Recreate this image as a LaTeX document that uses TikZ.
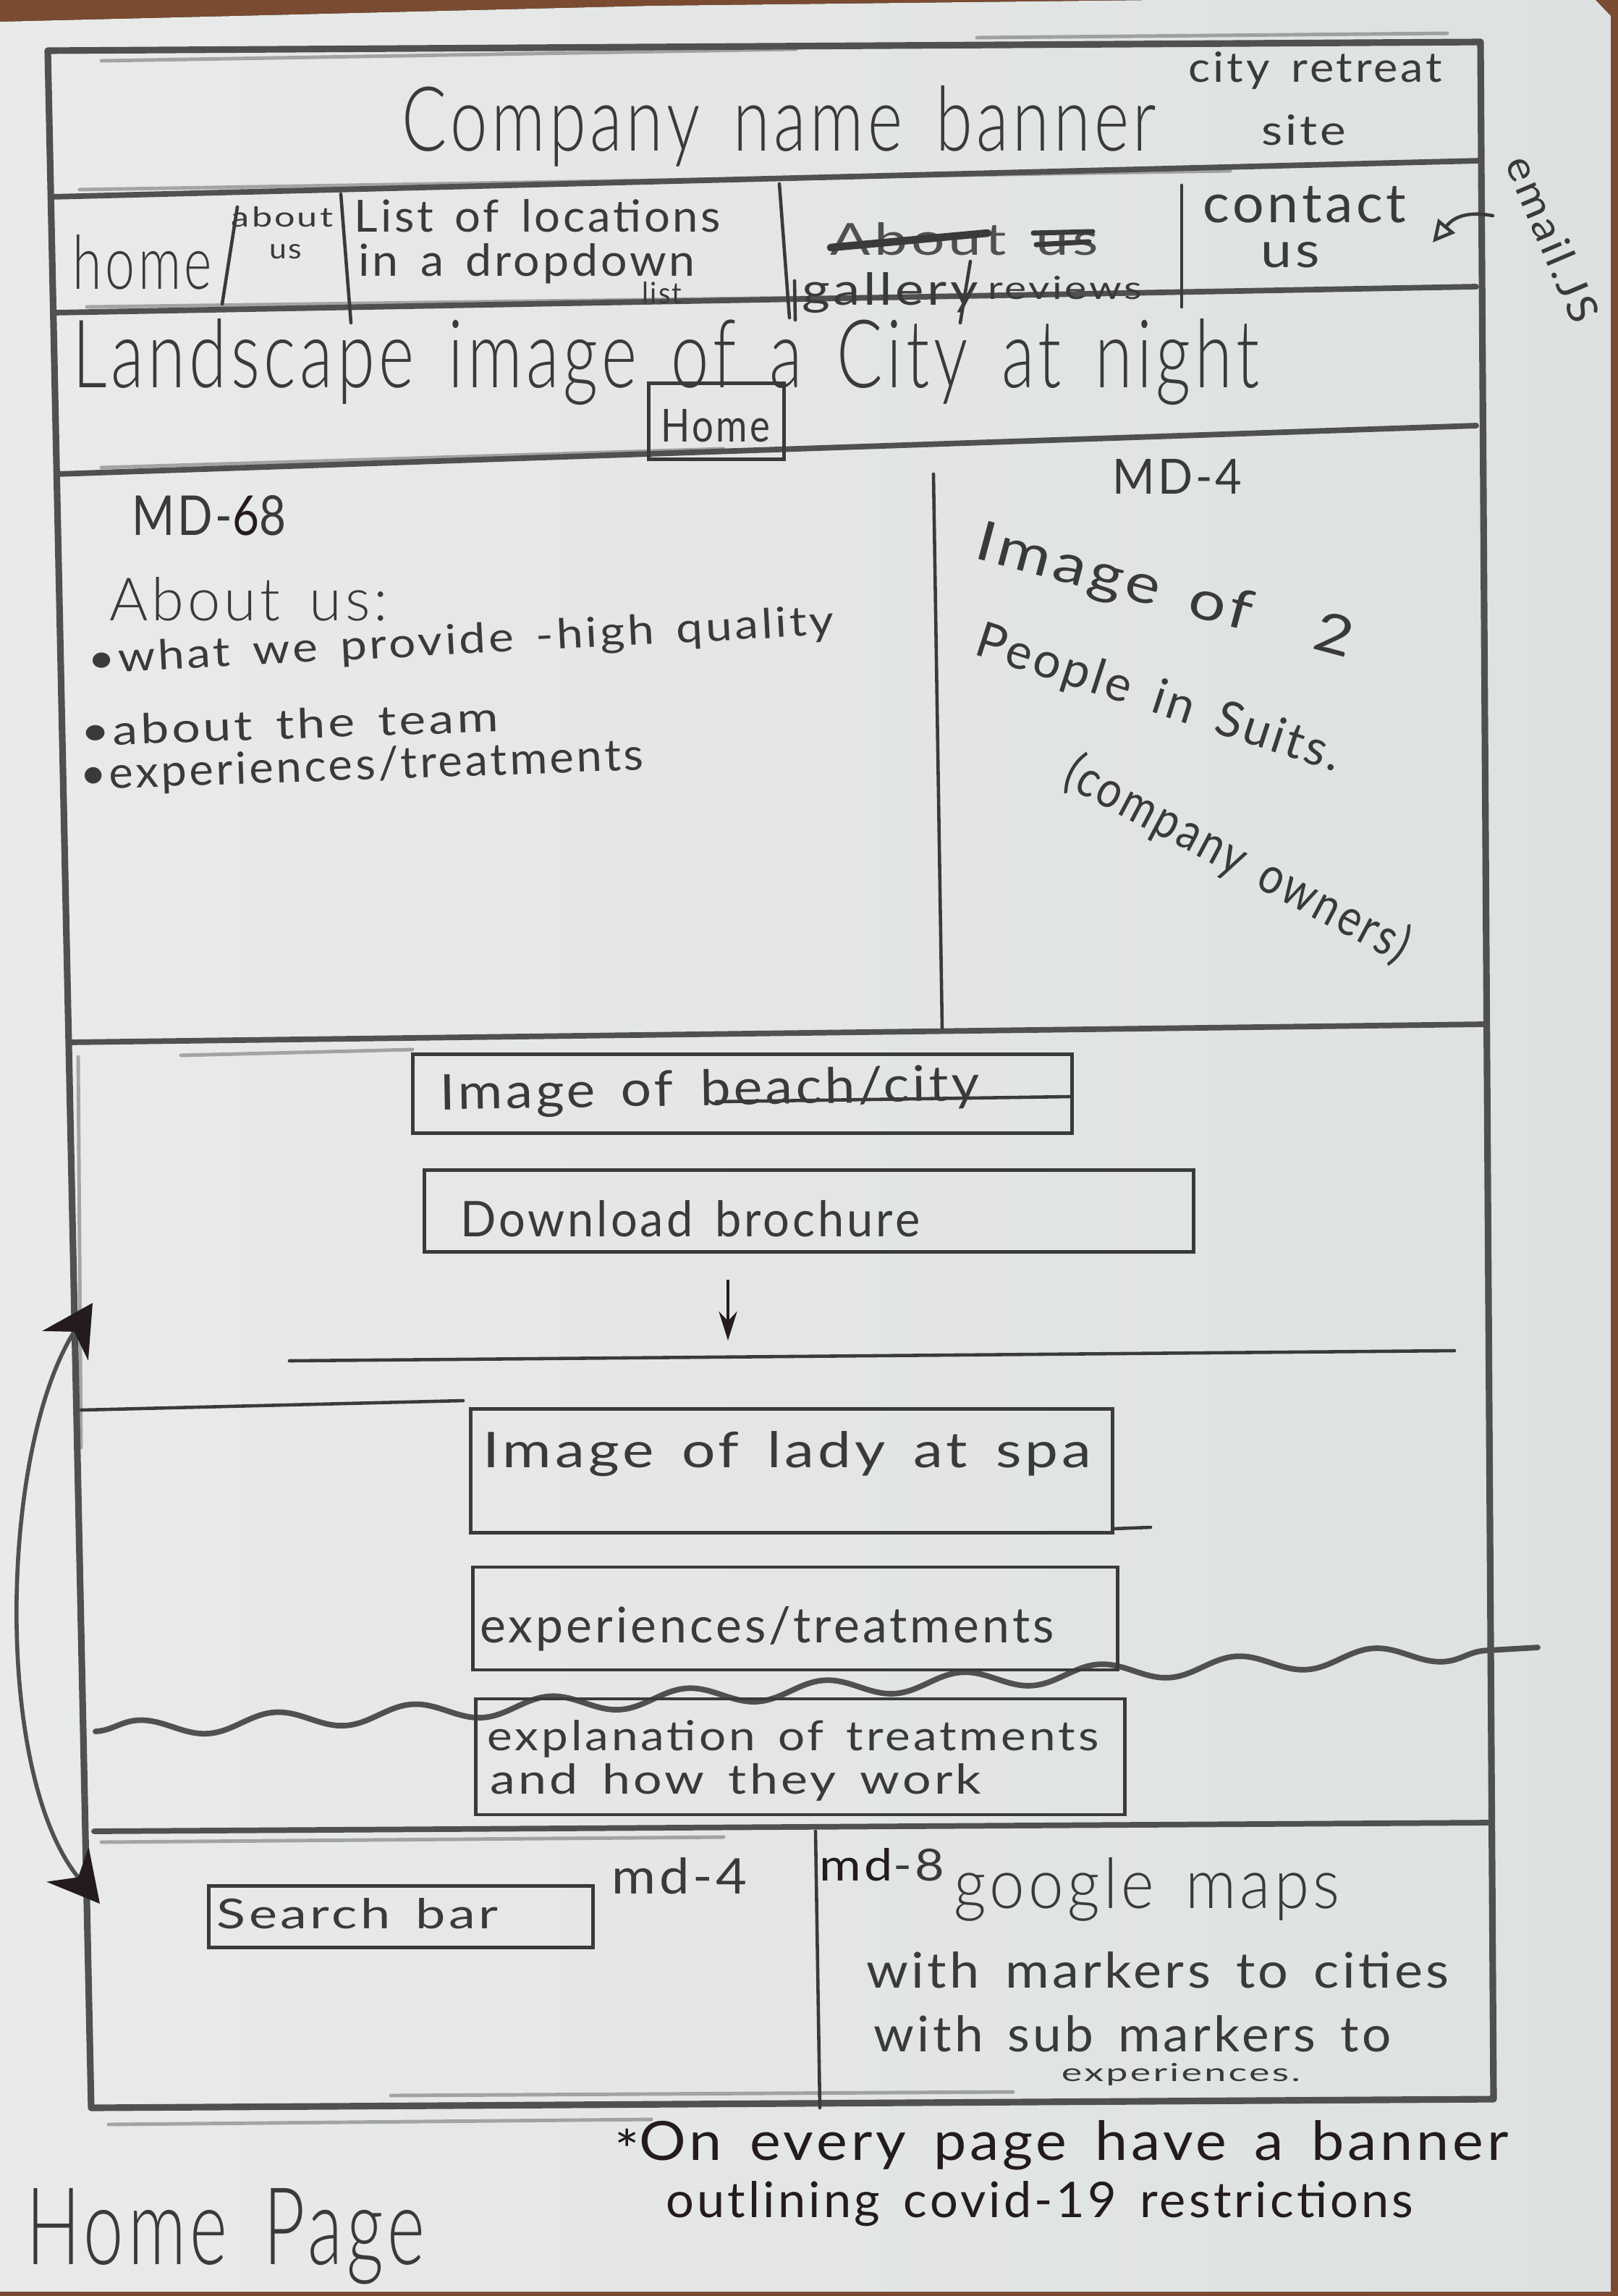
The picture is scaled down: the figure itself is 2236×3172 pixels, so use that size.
\documentclass[tikz,border=0pt]{standalone}
\usepackage{fontspec}
\setmainfont{Lato}[LetterSpace=6, WordSpace=1.5]
\IfFontExistsTF{Lato Light}
  {\newfontfamily\thinhand{Lato Light}[LetterSpace=6, WordSpace=1.5]}
  {\newfontfamily\thinhand{Lato}[LetterSpace=6, WordSpace=1.5]}
\usepackage{graphicx}
\usetikzlibrary{arrows.meta,decorations.pathmorphing,calc}

\definecolor{paper}{HTML}{E9EBE9}
\definecolor{paperR}{HTML}{DDE1E1}
\definecolor{table}{HTML}{7A4B30}
\definecolor{pencil}{HTML}{505050}
\definecolor{lead}{HTML}{3A3A3A}
\definecolor{ink}{HTML}{231B1F}

% hand lettering: width and height (cm) of the written line
\newcommand\hand[3]{\resizebox{#1cm}{#2cm}{#3}}

\tikzset{
  frame/.style={draw=pencil, line width=2.6pt, line cap=round, line join=round},
  rule/.style={draw=pencil, line width=2.2pt, line cap=round},
  faint/.style={draw=pencil, line width=1.4pt, line cap=round, opacity=0.45},
  thin/.style={draw=lead, line width=1.3pt, line cap=round},
  sketchbox/.style={draw=lead, line width=1.3pt, rectangle, inner sep=0pt},
  txt/.style={inner sep=0pt, text=lead},
  big/.style={inner sep=0pt, text=lead, font=\thinhand},
  pen/.style={inner sep=0pt, text=ink},
  bigtip/.tip={Stealth[length=0.7cm, width=0.75cm, color=ink]},
}

\begin{document}
\begin{tikzpicture}[x=0.01cm,y=-0.01cm]
\useasboundingbox (0,0) rectangle (2236,3172);

% table and sheet of paper
\fill[table] (0,0) rectangle (2236,3172);
\fill[left color=paper, right color=paperR]
  (0,30) -- (900,8) -- (1600,0) -- (2205,0) -- (2226,22) -- (2226,3166) -- (0,3166) -- cycle;

% page outline
\coordinate (TL) at (66,70);
\coordinate (TR) at (2046,58);
\coordinate (BR) at (2064,2900);
\coordinate (BL) at (126,2912);
\draw[frame] (TL) -- (TR) -- (BR) -- (BL) -- cycle;
\draw[faint] (140,84) -- (1100,68);
\draw[faint] (1350,52) -- (2000,46);
\draw[faint] (150,2935) -- (900,2928);
\draw[faint] (540,2895) -- (1400,2890);
\draw[faint] (108,1460) -- (112,2000);

% horizontal section rules
\draw[rule] (70,272) -- (2044,222);
\draw[faint] (110,262) -- (1700,236);
\draw[rule] (74,432) -- (2040,396);
\draw[faint] (120,424) -- (1200,410);
\draw[rule] (78,655) -- (2040,588);
\draw[faint] (140,646) -- (1000,620);
\draw[rule] (95,1440) -- (2050,1415);
\draw[faint] (250,1458) -- (570,1450);
\draw[thin] (400,1880) -- (2010,1866);
\draw[thin] (112,1948) -- (640,1935);
\draw[rule, decorate, decoration={snake, segment length=1.9cm, amplitude=0.12cm}]
  (132,2392) -- (2125,2276);
\draw[rule] (130,2530) -- (2058,2518);
\draw[faint] (140,2545) -- (1000,2538);

% navigation and column dividers
\draw[thin] (328,286) -- (307,420);
\draw[thin] (471,268) -- (485,446);
\draw[thin] (1077,254) -- (1091,439);
\draw[thin] (1098,388) -- (1099,442);
\draw[thin] (1341,361) -- (1327,446);
\draw[thin] (1633,256) -- (1633,424);
\draw[thin] (1290,655) -- (1302,1420);
\draw[thin] (1127,2530) -- (1133,2912);

% banner
\node[big] (banner) at (1077,174) {\hand{10.42}{0.9}{Company name banner}};
\node[txt] (retreat) at (1818,97) {\hand{3.5}{0.42}{city retreat}};
\node[txt] (site) at (1802,180) {\hand{1.17}{0.42}{site}};

% navigation bar
\node[big] (navhome) at (197,362) {\hand{1.92}{0.75}{home}};
\node[txt] (navabout) at (390,300) {\hand{1.4}{0.28}{about}};
\node[txt] (navaboutus) at (395,348) {\hand{0.45}{0.2}{us}};
\node[txt] (loca) at (743,298) {\hand{5.06}{0.45}{List of locations}};
\node[txt] (locb) at (728,364) {\hand{4.65}{0.45}{in a dropdown}};
\node[txt] (locc) at (915,405) {\hand{0.55}{0.3}{list}};
\node[txt, text=pencil] (struck) at (1333,330) {\hand{3.7}{0.45}{About\enspace us}};
\draw[line width=3pt, draw=lead, line cap=round] (1148,342) -- (1365,322);
\draw[line width=2pt, draw=lead, line cap=round] (1428,322) -- (1510,320);
\draw[line width=2pt, draw=lead, line cap=round] (1432,338) -- (1505,334);
\node[txt] (gallery) at (1230,405) {\hand{2.43}{0.45}{gallery}};
\node[txt] (reviews) at (1472,398) {\hand{2.12}{0.32}{reviews}};
\node[txt] (contact) at (1803,283) {\hand{2.8}{0.5}{contact}};
\node[txt] (contactus) at (1783,352) {\hand{0.81}{0.35}{us}};

% note beside the page, pointing into the contact cell
\node[txt, rotate=-67] (emailjs) at (2146,330) {\hand{2.44}{0.42}{email.JS}};
\coordinate (emailtail) at (2063,298);
\coordinate (contactmark) at (1980,335);
\draw[thin, -{Triangle[open, length=0.3cm, width=0.3cm]}]
  (emailtail) .. controls (2020,290) and (2005,305) .. (contactmark);

% hero image strip
\node[big] (landscape) at (920,500) {\hand{16.39}{0.95}{Landscape image of a City at night}};
\node[sketchbox, minimum width=1.87cm, minimum height=1.05cm] (homebox) at (990,582) {};
\node[txt] (homebtn) at (989,588) {\hand{1.5}{0.45}{Home}};

% about-us row
\node[txt] (mdleft) at (289,712) {\hand{2.13}{0.55}{MD-\textcolor{ink}{6}8}};
\node[big] (aboutus) at (344,828) {\hand{3.84}{0.6}{About us:}};
\node[txt, rotate=3] (bulleta) at (637,888) {\hand{10.32}{0.42}{\textbullet what we provide -high quality}};
\node[txt, rotate=2] (bulletb) at (400,1000) {\hand{5.77}{0.42}{\textbullet about the team}};
\node[txt, rotate=2] (bulletc) at (500,1060) {\hand{7.79}{0.45}{\textbullet experiences/treatments}};
\node[txt] (mdright) at (1627,658) {\hand{1.78}{0.48}{MD-4}};
\node[txt, rotate=-15] (owners1) at (1609,820) {\hand{5.36}{0.55}{Image of\quad 2}};
\node[txt, rotate=-18] (owners2) at (1601,967) {\hand{5.26}{0.5}{People\enspace in\enspace Suits.}};
\node[txt, rotate=-28] (owners3) at (1710,1188) {\hand{5.28}{0.55}{(company owners)}};

% brochure block
\node[sketchbox, minimum width=9.10cm, minimum height=1.09cm] (beachbox) at (1026,1511) {};
\draw[thin] (990,1522) -- (1478,1515);
\node[txt, rotate=1] (beach) at (981,1508) {\hand{7.45}{0.5}{Image of\enspace beach/city}};
\node[sketchbox, minimum width=10.62cm, minimum height=1.13cm] (brochbox) at (1118,1673) {};
\node[txt] (brochure) at (954,1684) {\hand{6.34}{0.5}{Download brochure}};
\coordinate (dlstart) at (1006,1768);
\coordinate (dlend) at (1006,1852);
\draw[draw=ink, line width=1.3pt, -{Stealth[length=0.4cm, width=0.25cm]}] (dlstart) -- (dlend);

% treatments block
\node[sketchbox, minimum width=8.87cm, minimum height=1.71cm] (ladybox) at (1094,2032) {};
\draw[thin] (1538,2112) -- (1590,2110);
\node[txt] (lady) at (1088,2009) {\hand{8.4}{0.5}{Image of lady at spa}};
\node[sketchbox, minimum width=8.9cm, minimum height=1.42cm] (experbox) at (1099,2236) {};
\node[txt] (exper) at (1060,2250) {\hand{7.93}{0.5}{experiences/treatments}};
\node[sketchbox, minimum width=8.96cm, minimum height=1.6cm] (explbox) at (1106,2427) {};
\node[txt] (expla) at (1096,2402) {\hand{8.44}{0.42}{explanation of treatments}};
\node[txt] (explb) at (1017,2462) {\hand{6.78}{0.42}{and how they work}};

% scroll link along the left edge
\coordinate (loopa) at (128,1800);
\coordinate (loopb) at (138,2630);
\draw[draw=pencil, line width=1.6pt, {bigtip}-{bigtip}]
  (loopa) .. controls (0,2000) and (-10,2450) .. (loopb);

% search and map row
\node[sketchbox, minimum width=5.31cm, minimum height=0.85cm] (searchbox) at (554,2648) {};
\node[txt] (search) at (494,2644) {\hand{3.88}{0.42}{Search bar}};
\node[txt] (mdfour) at (939,2592) {\hand{1.86}{0.5}{md-4}};
\node[txt] (mdeight) at (1219,2576) {\hand{1.72}{0.45}{\textcolor{ink}{md}-8}};
\node[big] (gmaps) at (1585,2610) {\hand{5.33}{0.7}{google maps}};
\node[txt] (marka) at (1600,2722) {\hand{8.05}{0.5}{with markers to cities}};
\node[txt] (markb) at (1565,2810) {\hand{7.14}{0.5}{with sub markers to}};
\node[txt] (markc) at (1632,2866) {\hand{3.3}{0.25}{experiences.}};

% footnote and page title
\node[pen] (foota) at (1467,2964) {\hand{12.34}{0.55}{\raisebox{-0.35ex}{*}On every page have a banner}};
\node[pen] (footb) at (1437,3045) {\hand{10.32}{0.5}{outlining covid-19 restrictions}};
\node[big] (pagename) at (312,3090) {\hand{5.51}{1.05}{Home Page}};
\end{tikzpicture}
\end{document}
